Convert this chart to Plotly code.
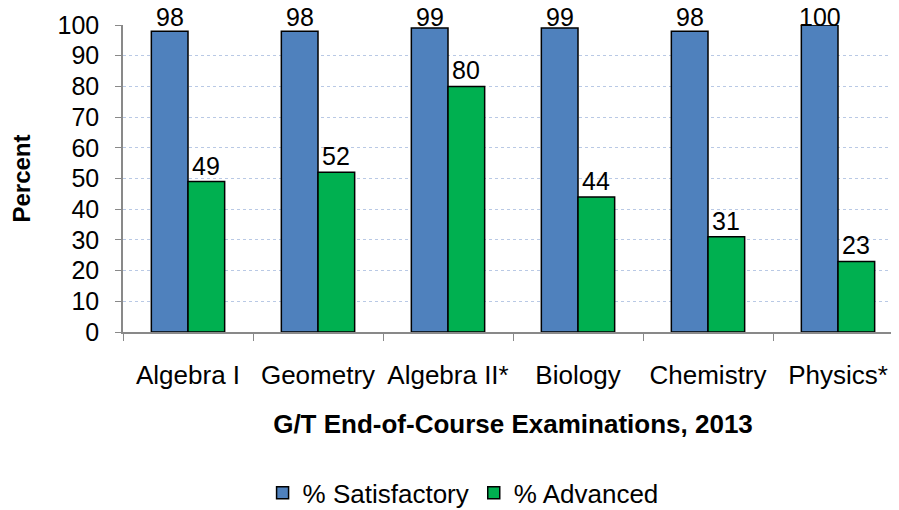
import plotly.graph_objects as go

categories = ["Algebra I", "Geometry", "Algebra II*", "Biology", "Chemistry", "Physics*"]
satisfactory = [98, 98, 99, 99, 98, 100]
advanced = [49, 52, 80, 44, 31, 23]
series_names = ["% Satisfactory", "% Advanced"]
y_ticks = list(range(0, 101, 10))

FONT = "Liberation Sans, Arial, sans-serif"
BAR_HALF = 18.3      # half bar width in px, centres labels above grouped bars
LABEL_CLAMP = 97.5   # like Excel, labels near the top are kept inside the chart

fig = go.Figure()
fig.add_trace(go.Bar(
    name=series_names[0], x=categories, y=satisfactory,
    marker=dict(color="#4F81BD", line=dict(color="black", width=1.5)),
))
fig.add_trace(go.Bar(
    name=series_names[1], x=categories, y=advanced,
    marker=dict(color="#00B050", line=dict(color="black", width=1.5)),
))

annotations = []
for vals, shift in ((satisfactory, -BAR_HALF), (advanced, BAR_HALF)):
    for cat, v in zip(categories, vals):
        annotations.append(dict(
            x=cat, y=min(v, LABEL_CLAMP), xref="x", yref="y", text=str(v),
            showarrow=False, xshift=shift, yanchor="bottom", yshift=1,
            borderpad=0, font=dict(size=25, color="black", family=FONT),
        ))

# page body has an 8px default margin, so figure coordinates are offset by 8px
fig.update_layout(
    width=899, height=510,
    margin=dict(l=115, r=4, t=17, b=186, autoexpand=False),
    paper_bgcolor="white", plot_bgcolor="white",
    barmode="group", bargap=0.436, bargroupgap=0,
    font=dict(family=FONT, color="black"),
    annotations=annotations,
    legend=dict(orientation="h", x=0.436, xref="paper", xanchor="center",
                y=-0.524, yanchor="middle", font=dict(size=26),
                itemwidth=30, traceorder="normal"),
    showlegend=True,
)
fig.update_xaxes(
    type="category", range=[-0.5, 5.5], automargin=False,
    showline=True, linecolor="#898989", linewidth=1.5,
    ticks="outside", tickson="boundaries", ticklen=7, tickcolor="#898989",
    tickfont=dict(size=26), tickangle=0, ticklabelstandoff=19, showgrid=False,
    title=dict(text="<b>G/T End-of-Course Examinations, 2013</b>",
               font=dict(size=26), standoff=26),
)
fig.update_yaxes(
    range=[0, 100], tickvals=y_ticks, automargin=False,
    showline=True, linecolor="#898989", linewidth=1.5,
    ticks="outside", ticklen=6, tickcolor="#898989",
    tickfont=dict(size=25), ticklabelstandoff=11,
    showgrid=True, gridcolor="#B9C9E5", griddash="dot", gridwidth=1,
    zeroline=False,
    title=dict(text="<b>Percent</b>", font=dict(size=24), standoff=21),
)

fig.write_html("out.html")
